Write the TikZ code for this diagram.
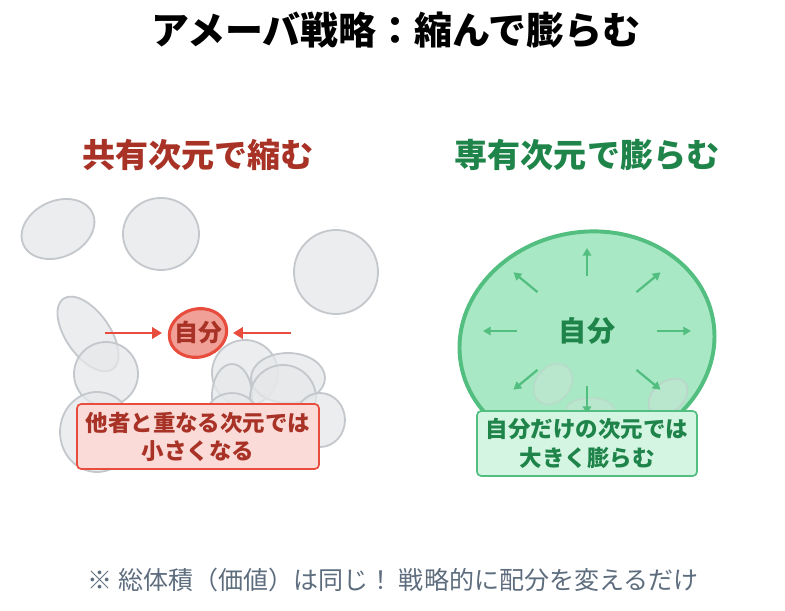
\documentclass[tikz,border=0pt]{standalone}
\usepackage{fontspec}
\setmainfont{Noto Sans CJK JP}
\usetikzlibrary{arrows.meta}
\usetikzlibrary{calc}
\definecolor{darkred}{HTML}{A93226}
\definecolor{redline}{HTML}{E74C3C}
\definecolor{redfill}{HTML}{F1A097}
\definecolor{redbox}{HTML}{FADBD8}
\definecolor{darkgreen}{HTML}{1E8449}
\definecolor{greenline}{HTML}{52BE80}
\definecolor{greenfill}{HTML}{A9E8C4}
\definecolor{greenbox}{HTML}{D5F5E3}
\definecolor{othergray}{HTML}{E5E7E9}
\definecolor{otherline}{HTML}{C4C8CC}
\definecolor{notegray}{HTML}{5D6D7E}
\tikzset{
	other/.style={fill=othergray, draw=otherline, line width=1.3pt, fill opacity=0.75},
	shrinkarrow/.style={draw=redline, line width=2pt, -{Triangle[length=7pt, width=8pt]}},
	growarrow/.style={draw=greenline, line width=1.6pt, -{Triangle[length=5.5pt, width=6pt]}},
	notebox/.style={rounded corners=3pt, line width=1.2pt, align=center, font=\bfseries\fontsize{16}{20}\selectfont, inner sep=0pt}
}
\begin{document}
\begin{tikzpicture}[x=0.025cm, y=-0.025cm]
		\useasboundingbox (0,0) rectangle (785,611);
		\node[font=\bfseries\fontsize{27}{30}\selectfont] (title) at (396,30) {アメーバ戦略：縮んで膨らむ};
	
		\begin{scope}
			\node[font=\bfseries\fontsize{23.5}{26}\selectfont, text=darkred] (lefttitle) at (198,155) {共有次元で縮む};
			
			\draw[other] (58,229) ellipse [x radius=38, y radius=28, rotate=25];
			\draw[other] (161,234) ellipse [x radius=38, y radius=36];
			\draw[other] (336,272) ellipse [x radius=42, y radius=42];
			\draw[other] (88,334) ellipse [x radius=43, y radius=22, rotate=-55];
			\draw[other] (106,374) ellipse [x radius=32, y radius=32];
			\draw[other] (97,432) ellipse [x radius=37, y radius=40];
			\draw[other] (245,373) ellipse [x radius=33, y radius=33];
			\draw[other] (288,378) ellipse [x radius=37, y radius=25];
			\draw[other] (232,396) ellipse [x radius=20, y radius=32];
			\draw[other] (283,398) ellipse [x radius=33, y radius=33];
			\draw[other] (232,418) ellipse [x radius=27, y radius=25];
			\draw[other] (320,420) ellipse [x radius=25, y radius=27];
			
			\filldraw[fill=redfill, draw=redline, line width=2.2pt] (198,333) ellipse [x radius=29, y radius=24, rotate=15];
			\node[font=\bfseries\fontsize{17}{20}\selectfont, text=darkred] (leftself) at (198,332) {自分};
			\coordinate (leftfrom) at (105,333);
			\coordinate (leftto) at (162,333);
			\coordinate (rightfrom) at (291,333);
			\coordinate (rightto) at (233,333);
			\draw[shrinkarrow] (leftfrom) -- (leftto);
			\draw[shrinkarrow] (rightfrom) -- (rightto);
			
			\node[notebox, fill=redbox, draw=redline, text=darkred, minimum width=242*0.025cm, minimum height=65*0.025cm] (leftnote) at (198,436.5) {他者と重なる次元では\\小さくなる};
		\end{scope}
	
		\begin{scope}
			\node[font=\bfseries\fontsize{23.5}{26}\selectfont, text=darkgreen] (righttitle) at (587,155) {専有次元で膨らむ};
			
			\filldraw[fill=greenfill, draw=greenline, line width=2.8pt] (587,342) ellipse [x radius=128, y radius=110, rotate=10];
			\draw[other, fill opacity=0.25, draw opacity=0.35] (553,384) ellipse [x radius=22, y radius=17, rotate=50];
			\draw[other, fill opacity=0.25, draw opacity=0.35] (590,410) ellipse [x radius=24, y radius=12];
			\draw[other, fill opacity=0.25, draw opacity=0.5] (668,397) ellipse [x radius=22, y radius=15, rotate=40];
			
			\node[font=\bfseries\fontsize{20}{24}\selectfont, text=darkgreen] (rightself) at (587,331) {自分};
			\foreach \a in {0,45,...,315}
				\draw[growarrow] ($(rightself)+({70*cos(\a)},{55*sin(\a)})$) -- ($(rightself)+({104*cos(\a)},{83*sin(\a)})$);
			
			\node[notebox, fill=greenbox, draw=greenline, text=darkgreen, minimum width=220*0.025cm, minimum height=65*0.025cm] (rightnote) at (587,443.5) {自分だけの次元では\\大きく膨らむ};
		\end{scope}
	
		\node[font=\fontsize{17.8}{21}\selectfont, text=notegray] (note) at (393,580) {※ 総体積（価値）は同じ！ 戦略的に配分を変えるだけ};
	\end{tikzpicture}
\end{document}
